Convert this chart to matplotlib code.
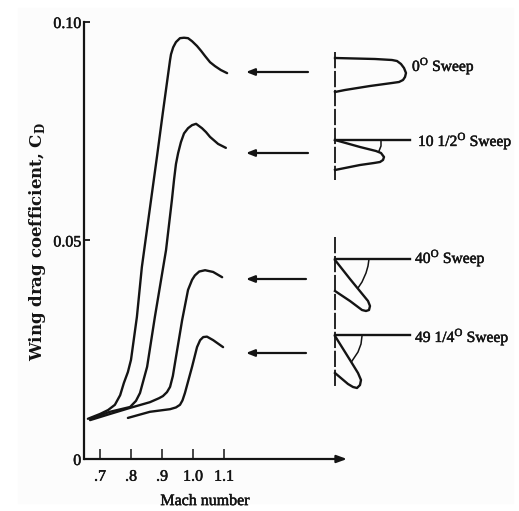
import matplotlib
matplotlib.use('Agg')
import matplotlib.pyplot as plt
import matplotlib.patheffects as pe

plt.rcParams['font.family'] = ['Liberation Serif', 'DejaVu Serif']
plt.rcParams['mathtext.fontset'] = 'custom'
plt.rcParams['mathtext.rm'] = 'Liberation Serif'
plt.rcParams['mathtext.bf'] = 'DejaVu Serif:bold'

INK = '#141414'
HEAVY = [pe.withStroke(linewidth=0.35, foreground=INK)]  # old print looks a bit fatter

# curves (mach, cd)
mach_0 = [.661, .700, .726, .748, .765, .777, .790, .800, .819, .835, .861, .884, .903, .926,
          .929, .936, .945, .958, .971, .984, .997, 1.013, 1.026, 1.039, 1.055, 1.071, 1.090, 1.110]
cd_0 = [.0092, .0103, .0112, .0124, .0146, .0174, .0199, .0227, .0325, .0439, .0574, .0693, .0794, .0913,
        .0926, .0942, .0954, .0963, .0964, .0963, .0956, .0945, .0934, .0922, .0908, .0899, .0890, .0883]

mach_10 = [.668, .732, .797, .816, .829, .852, .877, .913, .932, .939, .945, .952, .961, .971, .984, .997,
           1.010, 1.029, 1.042, 1.055, 1.081, 1.106]
cd_10 = [.0092, .0108, .0119, .0133, .0151, .0211, .0325, .0478, .0593, .0640, .0675, .0700, .0725, .0745,
         .0757, .0764, .0767, .0757, .0748, .0737, .0721, .0712]

mach_40 = [.668, .732, .797, .861, .890, .903, .916, .926, .935, .942, .965, .984, .997, 1.006, 1.020, 1.039,
           1.065, 1.094]
cd_40 = [.0089, .0103, .0117, .0130, .0139, .0144, .0153, .0165, .0190, .0220, .0318, .0387, .0410, .0420,
         .0429, .0432, .0428, .0416]

mach_49 = [.790, .861, .926, .945, .958, .966, .974, .997, 1.013, 1.023, 1.033, 1.045, 1.065, 1.097]
cd_49 = [.0094, .0108, .0114, .0118, .0124, .0134, .0151, .0211, .0256, .0272, .0279, .0280, .0272, .0256]

x_ticks = [.7, .8, .9, 1.0, 1.1]
x_tick_labels = ['.7', '.8', '.9', '1.0', '1.1']
y_ticks = [0, .05, .10]
y_tick_labels = ['0', '0.05', '0.10']

# wing sketches, in picture pixels
wing_0 = [(335, 58), (375, 59), (392, 60), (397, 61), (401, 64), (404, 68), (406, 73), (405, 77), (403, 80),
          (399, 82), (392, 83), (370, 86), (345, 90), (335, 92)]
wing_10 = [(335, 140), (360, 147), (376, 151), (381, 153), (384, 157), (383, 160), (380, 162), (374, 163),
           (360, 165), (345, 168), (335, 170)]
wing_40 = [(335, 260), (350, 279), (368, 301), (370, 306), (369, 310), (366, 311), (362, 310), (350, 301),
           (335, 291)]
wing_49 = [(335, 336), (350, 360), (358, 373), (361, 380), (360, 385), (357, 388), (353, 387), (348, 384),
           (335, 373)]
arc_10 = [(381, 141), (381, 146), (379, 151)]
arc_40 = [(369, 259), (368, 266), (366, 273), (362, 282), (358, 288)]
arc_49 = [(362, 336), (361, 344), (358, 352), (352, 361)]

center_lines = [(52, 180), (237, 388)]
sweep_lines = [140, 259, 335]
arrow_rows = [(308, 72), (308, 153), (306, 279), (306, 353)]
sweep_labels = [(412, 66, r'0$^{\rm O}$ Sweep'),
                (418, 141, r'10 1/2$^{\rm O}$ Sweep'),
                (415, 258, r'40$^{\rm O}$ Sweep'),
                (415, 337, r'49 1/4$^{\rm O}$ Sweep')]


def draw_sketch(fig):
    # overlay in pixel coordinates for the hand drawn wings
    ov = fig.add_axes([0, 0, 1, 1], facecolor='none')
    ov.set_xlim(0, 519)
    ov.set_ylim(511, 0)
    ov.axis('off')

    ov.add_patch(plt.Rectangle((18, 8), 495, 495, color='#fcfcfc', zorder=0))

    for wing in [wing_0, wing_10, wing_40, wing_49]:
        ov.plot(*zip(*wing), color=INK, lw=1.7, solid_joinstyle='round')
    for arc in [arc_10, arc_40, arc_49]:
        ov.plot(*zip(*arc), color=INK, lw=1.1)

    for y0, y1 in center_lines:
        ov.plot([335, 335], [y0, y1], color=INK, lw=1.3, linestyle=(0, (9, 1.5)))
    for y in sweep_lines:
        ov.plot([335, 410], [y, y], color=INK, lw=1.7)

    for x, y in arrow_rows:
        ov.annotate('', xy=(246, y), xytext=(x, y),
                    arrowprops=dict(arrowstyle='-|>,head_length=0.5,head_width=0.2', color=INK, lw=1.6,
                                    shrinkA=0, shrinkB=0))

    for x, y, label in sweep_labels:
        ov.text(x, y, label, fontsize=11.2, color=INK, va='center', ha='left', path_effects=HEAVY)

    # x axis runs past the data and ends in an arrow
    ov.annotate('', xy=(347, 459), xytext=(84, 459),
                arrowprops=dict(arrowstyle='-|>,head_length=0.6,head_width=0.22', color=INK, lw=1.6,
                                shrinkA=0, shrinkB=0))


def main():
    fig = plt.figure(figsize=(5.19, 5.11), dpi=100)

    draw_sketch(fig)

    ax = fig.add_axes([84 / 519, 1 - 459 / 511, 261 / 519, 437 / 511], facecolor='none')
    ax.set_xlim(.7 - 16 / 310, .7 + 245 / 310)
    ax.set_ylim(0, .10)

    for mach, cd in [(mach_0, cd_0), (mach_10, cd_10), (mach_40, cd_40), (mach_49, cd_49)]:
        ax.plot(mach, cd, color=INK, lw=1.7, solid_capstyle='round', solid_joinstyle='round', clip_on=False)

    ax.spines['top'].set_visible(False)
    ax.spines['right'].set_visible(False)
    ax.spines['bottom'].set_visible(False)
    ax.spines['left'].set_linewidth(1.6)
    ax.spines['left'].set_color(INK)

    ax.set_xticks(x_ticks)
    ax.set_xticklabels(x_tick_labels, fontsize=11.5, color=INK, path_effects=HEAVY)
    ax.set_yticks(y_ticks)
    ax.set_yticklabels(y_tick_labels, fontsize=11.5, color=INK, path_effects=HEAVY)
    ax.tick_params(axis='x', direction='in', length=7, width=1.1, color=INK, pad=7)
    ax.tick_params(axis='y', direction='in', length=4, width=1.3, color=INK, pad=2)

    ax.set_xlabel('Mach number', fontsize=11.5, color=INK, path_effects=HEAVY)
    ax.xaxis.set_label_coords((205 - 84) / 261, -0.078)
    ax.set_ylabel(r'Wing drag coefficient, C$_{\mathbf{D}}$', fontsize=12, fontweight='bold', color=INK,
                  family=['DejaVu Serif'])
    ax.yaxis.set_label_coords(-(84 - 48) / 261, (459 - 242) / 437)

    fig.savefig('out.png', dpi=100, facecolor='white')


if __name__ == "__main__":
    main()
